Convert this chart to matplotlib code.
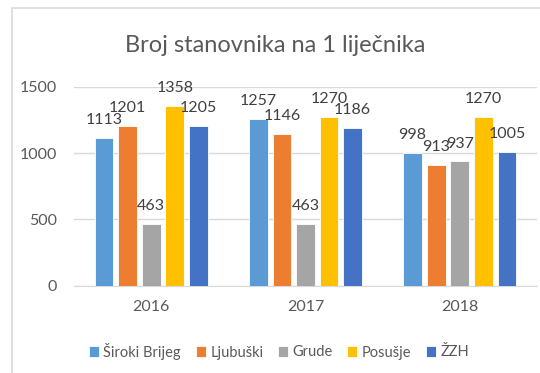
import matplotlib
matplotlib.use("Agg")
import matplotlib.pyplot as plt
import numpy as np
from matplotlib.patches import Rectangle

plt.rcParams['font.family'] = ['Lato', 'DejaVu Sans']

godine = ['2016', '2017', '2018']
serije = ['Široki Brijeg', 'Ljubuški', 'Grude', 'Posušje', 'ŽZH']
boje = ['#5B9BD5', '#ED7D31', '#A5A5A5', '#FFC000', '#4472C4']
vrijednosti = [
    [1113, 1257, 998],   # Široki Brijeg
    [1201, 1146, 913],   # Ljubuški
    [463, 463, 937],     # Grude
    [1358, 1270, 1270],  # Posušje
    [1205, 1186, 1005],  # ŽZH
]

W, H = 540, 373
fig = plt.figure(figsize=(W / 100, H / 100), dpi=100)

# okvir grafikona (lijevi i gornji rub)
fig.patches.append(Rectangle((12 / W, -0.1), 1.2, 1 - 8 / H + 0.1,
                             transform=fig.transFigure, fill=False,
                             edgecolor='#D9D9D9', linewidth=1.2))

ax = fig.add_axes([74 / W, 1 - 285.7 / H, (537 - 74) / W, (285.7 - 86.7) / H])

x = np.arange(len(godine))
sirina = 0.121
korak = 0.153
for i, (ime, boja, vals) in enumerate(zip(serije, boje, vrijednosti)):
    pos = x + (i - 2) * korak
    ax.bar(pos, vals, width=sirina, color=boja, label=ime,
           edgecolor='white', linewidth=0.6, zorder=3)
    for px, v in zip(pos, vals):
        ax.annotate(str(v), (px, v), xytext=(0, 10), textcoords='offset points',
                    ha='center', va='baseline', fontsize=11.5, color='#404040',
                    zorder=4)

ax.set_xlim(-0.5, 2.5)
ax.set_ylim(0, 1500)
ax.set_yticks([0, 500, 1000, 1500])
ax.set_xticks(x)
ax.set_xticklabels(godine)
ax.yaxis.grid(True, color='#D9D9D9', linewidth=1)
ax.set_axisbelow(True)
for s in ['top', 'right', 'left']:
    ax.spines[s].set_visible(False)
ax.spines['bottom'].set_color('#D9D9D9')
ax.tick_params(axis='both', length=0, labelsize=11.5, colors='#595959')
ax.tick_params(axis='y', pad=12)
ax.tick_params(axis='x', pad=10)
ax.set_facecolor('none')

fig.text(275 / W, 1 - 46 / H, 'Broj stanovnika na 1 liječnika', ha='center',
         va='center', fontsize=17, color='#595959')

fig.legend(loc='center', bbox_to_anchor=(279 / W, 1 - 351 / H), ncol=5,
           frameon=False, fontsize=10.5, handlelength=0.7, handleheight=0.7,
           handletextpad=0.3, columnspacing=1.0, labelcolor='#595959')

fig.savefig('out.png', dpi=100)
